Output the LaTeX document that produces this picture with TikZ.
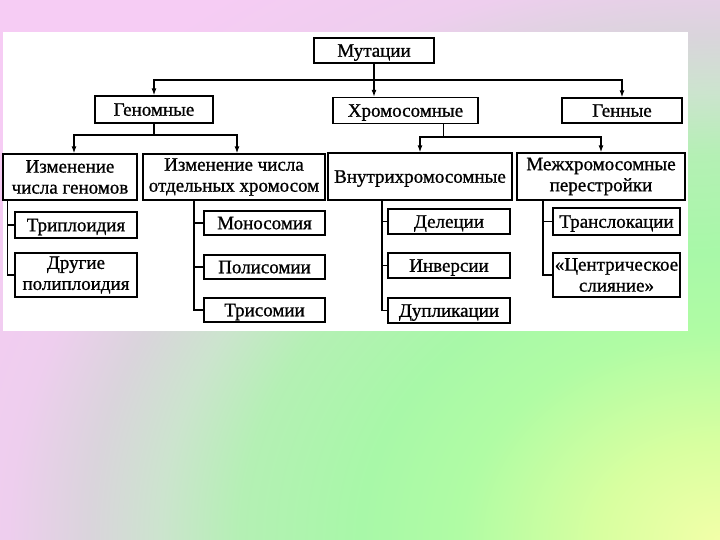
\documentclass[tikz,border=0pt]{standalone}
\usepackage{fontspec}
\setmainfont{Liberation Serif}
\newfontfamily\boxfont[FakeBold=0.9]{Liberation Serif}
\usetikzlibrary{arrows.meta}
\definecolor{cA}{HTML}{F2FFA8}
\definecolor{cB}{HTML}{D8FFA0}
\definecolor{cC}{HTML}{B0FCA4}
\definecolor{cD}{HTML}{A8F8A8}
\definecolor{cE}{HTML}{B4F0B4}
\definecolor{cF}{HTML}{CCE4CE}
\definecolor{cG}{HTML}{DAD4DC}
\definecolor{cH}{HTML}{EECEEE}
\definecolor{cI}{HTML}{F6CCF4}
\pgfdeclareradialshading{bgr}{\pgfpoint{0bp}{0bp}}{color(0bp)=(cA); color(3bp)=(cB); color(6.5bp)=(cC); color(9bp)=(cD); color(12bp)=(cE); color(14bp)=(cF); color(15.8bp)=(cG); color(17.8bp)=(cH); color(21bp)=(cI); color(50bp)=(cI)}
\begin{document}
\begin{tikzpicture}[x=1pt,y=-1pt,
  bx/.style={draw=black, line width=1.3pt, fill=white, inner sep=0pt,
             font=\boxfont\fontsize{19}{21}\selectfont},
  two/.style={bx, align=center},
  one/.style={bx, text height=12.5pt, text depth=0pt},
  ln/.style={line width=1.4pt},
  thin/.style={line width=0.8pt},
  arr/.style={ln, -{Latex[length=7pt,width=5pt]}}]
\useasboundingbox (0,0) rectangle (720,540);
% background
\begin{scope}
\clip (0,0) rectangle (720,540);
\fill[shading=bgr] (720,540) ellipse [x radius=1000pt, y radius=800pt];
\end{scope}
\fill[white] (3,32) rectangle (688,331);
% level 0
\node[one, minimum width=120pt, minimum height=25pt] (mut) at (374,50.5) {Мутации};
% level 1
\node[one, minimum width=118pt, minimum height=27pt] (gen) at (154,109.5) {Геномные};
\node[one, minimum width=145pt, minimum height=26pt] (chr) at (405.5,110.5) {Хромосомные};
\node[one, minimum width=120pt, minimum height=25pt] (genn) at (622,110.5) {Генные};
% level 2
\node[two, minimum width=134pt, minimum height=46pt] (izm1) at (70,177) {Изменение\\числа геномов};
\node[two, minimum width=182pt, minimum height=46pt] (izm2) at (234,177) {Изменение числа\\отдельных хромосом};
\node[one, minimum width=184pt, minimum height=47pt] (vnu) at (420,176.5) {Внутрихромосомные};
\node[two, minimum width=168pt, minimum height=47pt] (mezh) at (601,176.5) {Межхромосомные\\перестройки};
% level 3
\node[one, minimum width=122pt, minimum height=26pt] (trip) at (76,225) {Триплоидия};
\node[two, minimum width=122pt, minimum height=44pt] (drug) at (76,275) {Другие\\полиплоидия};
\node[one, minimum width=121pt, minimum height=24pt] (mono) at (264.5,223) {Моносомия};
\node[one, minimum width=121pt, minimum height=24pt] (poli) at (264.5,267) {Полисомии};
\node[one, minimum width=121pt, minimum height=24pt] (tris) at (264.5,310) {Трисомии};
\node[one, minimum width=122pt, minimum height=25pt] (del) at (449,221.5) {Делеции};
\node[one, minimum width=122pt, minimum height=25pt] (inv) at (449,265.5) {Инверсии};
\node[one, minimum width=122pt, minimum height=25pt] (dup) at (449,310.5) {Дупликации};
\node[one, minimum width=127pt, minimum height=27pt] (trans) at (616.5,221.5) {Транслокации};
\node[two, minimum width=127pt, minimum height=44pt] (cen) at (616.5,275) {«Центрическое\\слияние»};
% connectors from Мутации
\coordinate (bar0) at (374,80);
\draw[ln] (mut.south) -- (bar0);
\draw[arr] (bar0) -| (gen.north);
\draw[arr] (bar0) -- (bar0 |- chr.north);
\draw[arr] (bar0) -| (genn.north);
% from Геномные
\coordinate (bar1) at (154,135);
\draw[ln] (gen.south) -- (bar1);
\draw[arr] (bar1) -| ([xshift=4pt]izm1.north);
\draw[arr] (bar1) -| ([xshift=3pt]izm2.north);
% from Хромосомные
\coordinate (bar2) at (443,137);
\draw[thin] ([xshift=37.5pt]chr.south) -- (bar2);
\draw[arr] (bar2) -| (vnu.north);
\draw[arr] (bar2) -| (mezh.north);
% side trees
\draw[ln] ([xshift=5pt]izm1.south west) |- (trip.west);
\draw[ln] ([xshift=5pt]izm1.south west) |- (drug.west);
\draw[ln] ([xshift=-40pt]izm2.south) |- (mono.west);
\draw[ln] ([xshift=-40pt]izm2.south) |- (poli.west);
\draw[ln] ([xshift=-40pt]izm2.south) |- (tris.west);
\draw[ln] ([xshift=-38pt]vnu.south) |- (del.west);
\draw[ln] ([xshift=-38pt]vnu.south) |- (inv.west);
\draw[ln] ([xshift=-38pt]vnu.south) |- (dup.west);
\draw[ln] ([xshift=-58pt]mezh.south) |- (trans.west);
\draw[ln] ([xshift=-58pt]mezh.south) |- (cen.west);
\end{tikzpicture}
\end{document}
